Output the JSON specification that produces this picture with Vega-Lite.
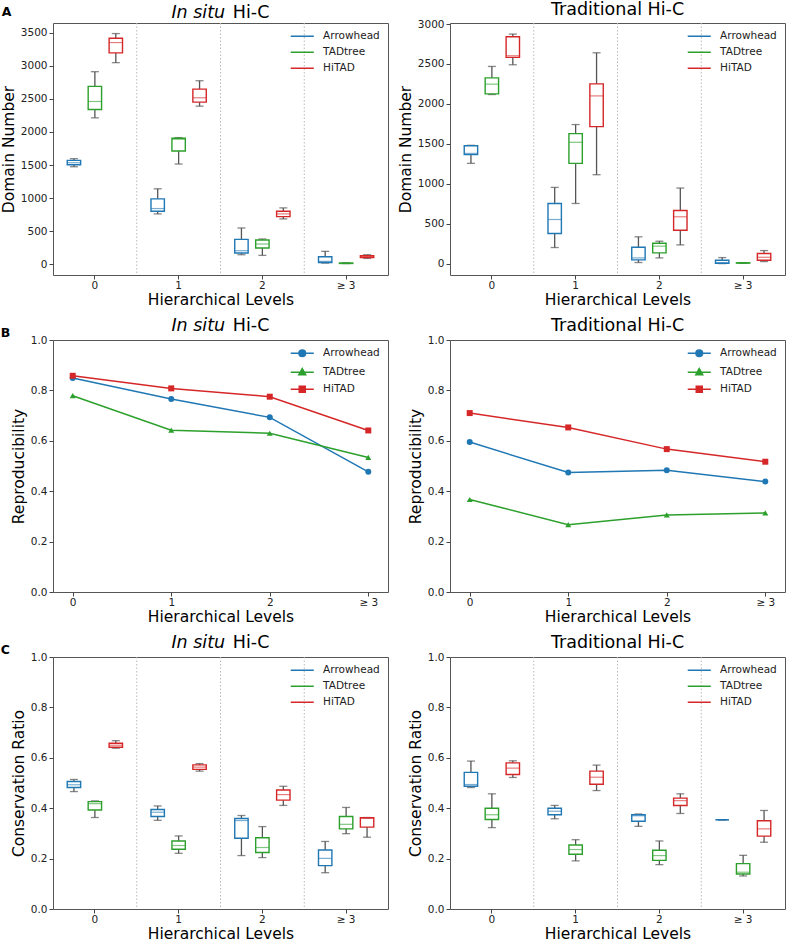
{
"$schema": "https://vega.github.io/schema/vega-lite/v6.json",
"padding": {"left": 0, "top": 0, "right": 3, "bottom": 0},
"config": {
 "font": "DejaVu Sans",
 "view": {"stroke": "#555555", "strokeWidth": 1},
 "axis": {"domain": false, "grid": false, "tickSize": 4, "tickColor": "#444444", "tickWidth": 1, "labelFontSize": 10.5, "titleFontSize": 15.5, "titleFontWeight": "normal", "labelColor": "#222222", "titleColor": "#000000", "labelPadding": 2, "titlePadding": 4},
 "axisX": {"labelPadding": 1, "titlePadding": 2},
 "title": {"fontSize": 17.5, "fontWeight": "normal", "color": "#000000", "offset": 1},
 "legend": {"labelFontSize": 10.5, "labelColor": "#222222"}
},
"datasets": {
 "seps": [{"level": "1"}, {"level": "2"}, {"level": "≥ 3"}],
 "A1": [
  {"level":"0","method":"Arrowhead","min":1474,"q1":1505,"median":1535,"q3":1570,"max":1596},
  {"level":"0","method":"TADtree","min":2214,"q1":2340,"median":2462,"q3":2690,"max":2913},
  {"level":"0","method":"HiTAD","min":3050,"q1":3197,"median":3354,"q3":3419,"max":3490},
  {"level":"1","method":"Arrowhead","min":760,"q1":800,"median":841,"q3":988,"max":1140},
  {"level":"1","method":"TADtree","min":1515,"q1":1712,"median":1890,"q3":1905,"max":1915},
  {"level":"1","method":"HiTAD","min":2391,"q1":2452,"median":2518,"q3":2649,"max":2776},
  {"level":"2","method":"Arrowhead","min":142,"q1":167,"median":203,"q3":375,"max":547},
  {"level":"2","method":"TADtree","min":132,"q1":243,"median":304,"q3":365,"max":380},
  {"level":"2","method":"HiTAD","min":684,"q1":719,"median":760,"q3":800,"max":851},
  {"level":"≥ 3","method":"Arrowhead","min":15,"q1":25,"median":41,"q3":111,"max":193},
  {"level":"≥ 3","method":"TADtree","min":8,"q1":10,"median":13,"q3":16,"max":20},
  {"level":"≥ 3","method":"HiTAD","min":86,"q1":101,"median":106,"q3":127,"max":142}
 ],
 "A2": [
  {"level":"0","method":"Arrowhead","min":1255,"q1":1364,"median":1380,"q3":1475,"max":1481},
  {"level":"0","method":"TADtree","min":2117,"q1":2126,"median":2247,"q3":2326,"max":2469},
  {"level":"0","method":"HiTAD","min":2490,"q1":2582,"median":2603,"q3":2841,"max":2874},
  {"level":"1","method":"Arrowhead","min":201,"q1":377,"median":552,"q3":753,"max":954},
  {"level":"1","method":"TADtree","min":753,"q1":1255,"median":1519,"q3":1628,"max":1741},
  {"level":"1","method":"HiTAD","min":1113,"q1":1715,"median":2100,"q3":2251,"max":2640},
  {"level":"2","method":"Arrowhead","min":13,"q1":46,"median":71,"q3":205,"max":335},
  {"level":"2","method":"TADtree","min":71,"q1":134,"median":218,"q3":255,"max":280},
  {"level":"2","method":"HiTAD","min":234,"q1":418,"median":586,"q3":665,"max":946},
  {"level":"≥ 3","method":"Arrowhead","min":0,"q1":4,"median":10,"q3":42,"max":75},
  {"level":"≥ 3","method":"TADtree","min":4,"q1":6,"median":8,"q3":10,"max":12},
  {"level":"≥ 3","method":"HiTAD","min":25,"q1":42,"median":79,"q3":126,"max":163}
 ],
 "B1": [
  {"level":"0","method":"Arrowhead","value":0.849},
  {"level":"1","method":"Arrowhead","value":0.766},
  {"level":"2","method":"Arrowhead","value":0.693},
  {"level":"≥ 3","method":"Arrowhead","value":0.477},
  {"level":"0","method":"TADtree","value":0.779},
  {"level":"1","method":"TADtree","value":0.642},
  {"level":"2","method":"TADtree","value":0.630},
  {"level":"≥ 3","method":"TADtree","value":0.534},
  {"level":"0","method":"HiTAD","value":0.858},
  {"level":"1","method":"HiTAD","value":0.808},
  {"level":"2","method":"HiTAD","value":0.775},
  {"level":"≥ 3","method":"HiTAD","value":0.641}
 ],
 "B2": [
  {"level":"0","method":"Arrowhead","value":0.595},
  {"level":"1","method":"Arrowhead","value":0.474},
  {"level":"2","method":"Arrowhead","value":0.483},
  {"level":"≥ 3","method":"Arrowhead","value":0.438},
  {"level":"0","method":"TADtree","value":0.367},
  {"level":"1","method":"TADtree","value":0.267},
  {"level":"2","method":"TADtree","value":0.306},
  {"level":"≥ 3","method":"TADtree","value":0.314},
  {"level":"0","method":"HiTAD","value":0.710},
  {"level":"1","method":"HiTAD","value":0.653},
  {"level":"2","method":"HiTAD","value":0.567},
  {"level":"≥ 3","method":"HiTAD","value":0.517}
 ],
 "C1": [
  {"level":"0","method":"Arrowhead","min":0.466,"q1":0.482,"median":0.493,"q3":0.506,"max":0.514},
  {"level":"0","method":"TADtree","min":0.363,"q1":0.393,"median":0.418,"q3":0.426,"max":0.429},
  {"level":"0","method":"HiTAD","min":0.638,"q1":0.642,"median":0.650,"q3":0.658,"max":0.668},
  {"level":"1","method":"Arrowhead","min":0.352,"q1":0.367,"median":0.384,"q3":0.395,"max":0.409},
  {"level":"1","method":"TADtree","min":0.221,"q1":0.237,"median":0.252,"q3":0.270,"max":0.290},
  {"level":"1","method":"HiTAD","min":0.547,"q1":0.554,"median":0.563,"q3":0.572,"max":0.577},
  {"level":"2","method":"Arrowhead","min":0.212,"q1":0.281,"median":0.351,"q3":0.359,"max":0.371},
  {"level":"2","method":"TADtree","min":0.204,"q1":0.224,"median":0.244,"q3":0.283,"max":0.327},
  {"level":"2","method":"HiTAD","min":0.411,"q1":0.432,"median":0.454,"q3":0.472,"max":0.487},
  {"level":"≥ 3","method":"Arrowhead","min":0.144,"q1":0.172,"median":0.201,"q3":0.234,"max":0.268},
  {"level":"≥ 3","method":"TADtree","min":0.299,"q1":0.318,"median":0.336,"q3":0.367,"max":0.403},
  {"level":"≥ 3","method":"HiTAD","min":0.285,"q1":0.325,"median":0.360,"q3":0.362,"max":0.363}
 ],
 "C2": [
  {"level":"0","method":"Arrowhead","min":0.482,"q1":0.487,"median":0.494,"q3":0.542,"max":0.587},
  {"level":"0","method":"TADtree","min":0.323,"q1":0.355,"median":0.374,"q3":0.400,"max":0.457},
  {"level":"0","method":"HiTAD","min":0.522,"q1":0.534,"median":0.559,"q3":0.580,"max":0.588},
  {"level":"1","method":"Arrowhead","min":0.358,"q1":0.374,"median":0.388,"q3":0.400,"max":0.411},
  {"level":"1","method":"TADtree","min":0.191,"q1":0.217,"median":0.236,"q3":0.254,"max":0.275},
  {"level":"1","method":"HiTAD","min":0.470,"q1":0.495,"median":0.523,"q3":0.547,"max":0.571},
  {"level":"2","method":"Arrowhead","min":0.328,"q1":0.348,"median":0.370,"q3":0.374,"max":0.377},
  {"level":"2","method":"TADtree","min":0.176,"q1":0.193,"median":0.212,"q3":0.233,"max":0.270},
  {"level":"2","method":"HiTAD","min":0.379,"q1":0.411,"median":0.430,"q3":0.440,"max":0.457},
  {"level":"≥ 3","method":"Arrowhead","min":0.354,"q1":0.354,"median":0.354,"q3":0.354,"max":0.354},
  {"level":"≥ 3","method":"TADtree","min":0.131,"q1":0.139,"median":0.146,"q3":0.180,"max":0.213},
  {"level":"≥ 3","method":"HiTAD","min":0.265,"q1":0.289,"median":0.318,"q3":0.350,"max":0.391}
 ]
},
"resolve": {"legend": {"color": "independent", "shape": "independent"}},
"spacing": 7,
"vconcat": [
 {
  "title": {"text": "A", "anchor": "start", "frame": "bounds", "fontSize": 12.5, "fontWeight": "bold", "offset": -18, "dx": 1},
  "bounds": "flush", "spacing": 62,
  "resolve": {"legend": {"color": "independent", "shape": "independent"}},
  "hconcat": [
   {
    "width": 335, "height": 252,
    "title": {"text": "In situ\u00a0\u00a0\u00a0\u00a0\u00a0\u00a0\u00a0\u00a0\u200b", "fontStyle": "italic", "subtitle": "\u200b\u00a0\u00a0\u00a0\u00a0\u00a0\u00a0\u00a0\u00a0\u00a0\u00a0\u00a0Hi-C", "subtitleFontSize": 17.5, "subtitleFontStyle": "normal", "subtitleColor": "#000000", "subtitlePadding": -17.5, "anchor": "middle", "frame": "group"},
    "layer": [
     {"data": {"name": "A1"}, "mark": {"type": "rule", "color": "#555555", "strokeWidth": 1.3},
      "encoding": {"x": {"field": "level", "type": "ordinal", "scale": {"domain": ["0","1","2","≥ 3"], "paddingInner": 0, "paddingOuter": 0}, "axis": {"title": "Hierarchical Levels", "labelAngle": 0, "bandPosition": 0.5}},
       "xOffset": {"field": "method", "type": "nominal", "scale": {"domain": ["Arrowhead","TADtree","HiTAD"], "paddingInner": 0.36, "paddingOuter": 0.68}},
       "y": {"field": "min", "type": "quantitative", "scale": {"domain": [-165, 3650], "nice": false, "zero": false}, "axis": {"title": "Domain Number", "format": "d", "values": [0,500,1000,1500,2000,2500,3000,3500]}}, "y2": {"field": "q1"}}},
     {"data": {"name": "seps"}, "mark": {"type": "rule", "color": "#b8b8b8", "strokeDash": [1.5, 2], "strokeWidth": 1},
      "encoding": {"x": {"field": "level", "type": "ordinal", "bandPosition": 0, "scale": {"domain": ["0","1","2","≥ 3"], "paddingInner": 0, "paddingOuter": 0}, "axis": {"title": "Hierarchical Levels", "labelAngle": 0, "bandPosition": 0.5}}}},
     {"data": {"name": "A1"}, "mark": {"type": "rule", "color": "#555555", "strokeWidth": 1.3},
      "encoding": {"x": {"field": "level", "type": "ordinal", "scale": {"domain": ["0","1","2","≥ 3"], "paddingInner": 0, "paddingOuter": 0}, "axis": {"title": "Hierarchical Levels", "labelAngle": 0, "bandPosition": 0.5}},
       "xOffset": {"field": "method", "type": "nominal", "scale": {"domain": ["Arrowhead","TADtree","HiTAD"], "paddingInner": 0.36, "paddingOuter": 0.68}},
       "y": {"field": "q3", "type": "quantitative", "scale": {"domain": [-165, 3650], "nice": false, "zero": false}, "axis": {"title": "Domain Number", "format": "d", "values": [0,500,1000,1500,2000,2500,3000,3500]}}, "y2": {"field": "max"}}},
     {"data": {"name": "A1"}, "mark": {"type": "tick", "color": "#555555", "size": 8, "thickness": 1.3},
      "encoding": {"x": {"field": "level", "type": "ordinal", "scale": {"domain": ["0","1","2","≥ 3"], "paddingInner": 0, "paddingOuter": 0}, "axis": {"title": "Hierarchical Levels", "labelAngle": 0, "bandPosition": 0.5}},
       "xOffset": {"field": "method", "type": "nominal", "scale": {"domain": ["Arrowhead","TADtree","HiTAD"], "paddingInner": 0.36, "paddingOuter": 0.68}},
       "y": {"field": "min", "type": "quantitative", "scale": {"domain": [-165, 3650], "nice": false, "zero": false}, "axis": {"title": "Domain Number", "format": "d", "values": [0,500,1000,1500,2000,2500,3000,3500]}}}},
     {"data": {"name": "A1"}, "mark": {"type": "tick", "color": "#555555", "size": 8, "thickness": 1.3},
      "encoding": {"x": {"field": "level", "type": "ordinal", "scale": {"domain": ["0","1","2","≥ 3"], "paddingInner": 0, "paddingOuter": 0}, "axis": {"title": "Hierarchical Levels", "labelAngle": 0, "bandPosition": 0.5}},
       "xOffset": {"field": "method", "type": "nominal", "scale": {"domain": ["Arrowhead","TADtree","HiTAD"], "paddingInner": 0.36, "paddingOuter": 0.68}},
       "y": {"field": "max", "type": "quantitative", "scale": {"domain": [-165, 3650], "nice": false, "zero": false}, "axis": {"title": "Domain Number", "format": "d", "values": [0,500,1000,1500,2000,2500,3000,3500]}}}},
     {"data": {"name": "A1"}, "mark": {"type": "bar", "filled": false, "strokeWidth": 1.4},
      "encoding": {"x": {"field": "level", "type": "ordinal", "scale": {"domain": ["0","1","2","≥ 3"], "paddingInner": 0, "paddingOuter": 0}, "axis": {"title": "Hierarchical Levels", "labelAngle": 0, "bandPosition": 0.5}},
       "xOffset": {"field": "method", "type": "nominal", "scale": {"domain": ["Arrowhead","TADtree","HiTAD"], "paddingInner": 0.36, "paddingOuter": 0.68}},
       "y": {"field": "q1", "type": "quantitative", "scale": {"domain": [-165, 3650], "nice": false, "zero": false}, "axis": {"title": "Domain Number", "format": "d", "values": [0,500,1000,1500,2000,2500,3000,3500]}}, "y2": {"field": "q3"},
       "color": {"field": "method", "type": "nominal", "scale": {"domain": ["Arrowhead","TADtree","HiTAD"], "range": ["#1f77b4","#2ca02c","#d62728"]},
        "legend": {"title": null, "orient": "top-right", "offset": 8, "padding": 0, "symbolType": "M-3,0H3", "symbolSize": 59, "symbolStrokeWidth": 1.5, "labelOffset": 15.6, "rowPadding": 5}}}},
     {"data": {"name": "A1"}, "mark": {"type": "tick", "size": 13, "thickness": 1.2, "opacity": 0.6},
      "encoding": {"x": {"field": "level", "type": "ordinal", "scale": {"domain": ["0","1","2","≥ 3"], "paddingInner": 0, "paddingOuter": 0}, "axis": {"title": "Hierarchical Levels", "labelAngle": 0, "bandPosition": 0.5}},
       "xOffset": {"field": "method", "type": "nominal", "scale": {"domain": ["Arrowhead","TADtree","HiTAD"], "paddingInner": 0.36, "paddingOuter": 0.68}},
       "y": {"field": "median", "type": "quantitative", "scale": {"domain": [-165, 3650], "nice": false, "zero": false}, "axis": {"title": "Domain Number", "format": "d", "values": [0,500,1000,1500,2000,2500,3000,3500]}},
       "color": {"field": "method", "type": "nominal", "legend": null}}}
    ]
   },
   {
    "width": 335, "height": 252,
    "title": {"text": "Traditional Hi-C", "anchor": "middle", "frame": "group"},
    "layer": [
     {"data": {"name": "A2"}, "mark": {"type": "rule", "color": "#555555", "strokeWidth": 1.3},
      "encoding": {"x": {"field": "level", "type": "ordinal", "scale": {"domain": ["0","1","2","≥ 3"], "paddingInner": 0, "paddingOuter": 0}, "axis": {"title": "Hierarchical Levels", "labelAngle": 0, "bandPosition": 0.5}},
       "xOffset": {"field": "method", "type": "nominal", "scale": {"domain": ["Arrowhead","TADtree","HiTAD"], "paddingInner": 0.36, "paddingOuter": 0.68}},
       "y": {"field": "min", "type": "quantitative", "scale": {"domain": [-143, 3013], "nice": false, "zero": false}, "axis": {"title": "Domain Number", "format": "d", "values": [0,500,1000,1500,2000,2500,3000]}}, "y2": {"field": "q1"}}},
     {"data": {"name": "seps"}, "mark": {"type": "rule", "color": "#b8b8b8", "strokeDash": [1.5, 2], "strokeWidth": 1},
      "encoding": {"x": {"field": "level", "type": "ordinal", "bandPosition": 0, "scale": {"domain": ["0","1","2","≥ 3"], "paddingInner": 0, "paddingOuter": 0}, "axis": {"title": "Hierarchical Levels", "labelAngle": 0, "bandPosition": 0.5}}}},
     {"data": {"name": "A2"}, "mark": {"type": "rule", "color": "#555555", "strokeWidth": 1.3},
      "encoding": {"x": {"field": "level", "type": "ordinal", "scale": {"domain": ["0","1","2","≥ 3"], "paddingInner": 0, "paddingOuter": 0}, "axis": {"title": "Hierarchical Levels", "labelAngle": 0, "bandPosition": 0.5}},
       "xOffset": {"field": "method", "type": "nominal", "scale": {"domain": ["Arrowhead","TADtree","HiTAD"], "paddingInner": 0.36, "paddingOuter": 0.68}},
       "y": {"field": "q3", "type": "quantitative", "scale": {"domain": [-143, 3013], "nice": false, "zero": false}, "axis": {"title": "Domain Number", "format": "d", "values": [0,500,1000,1500,2000,2500,3000]}}, "y2": {"field": "max"}}},
     {"data": {"name": "A2"}, "mark": {"type": "tick", "color": "#555555", "size": 8, "thickness": 1.3},
      "encoding": {"x": {"field": "level", "type": "ordinal", "scale": {"domain": ["0","1","2","≥ 3"], "paddingInner": 0, "paddingOuter": 0}, "axis": {"title": "Hierarchical Levels", "labelAngle": 0, "bandPosition": 0.5}},
       "xOffset": {"field": "method", "type": "nominal", "scale": {"domain": ["Arrowhead","TADtree","HiTAD"], "paddingInner": 0.36, "paddingOuter": 0.68}},
       "y": {"field": "min", "type": "quantitative", "scale": {"domain": [-143, 3013], "nice": false, "zero": false}, "axis": {"title": "Domain Number", "format": "d", "values": [0,500,1000,1500,2000,2500,3000]}}}},
     {"data": {"name": "A2"}, "mark": {"type": "tick", "color": "#555555", "size": 8, "thickness": 1.3},
      "encoding": {"x": {"field": "level", "type": "ordinal", "scale": {"domain": ["0","1","2","≥ 3"], "paddingInner": 0, "paddingOuter": 0}, "axis": {"title": "Hierarchical Levels", "labelAngle": 0, "bandPosition": 0.5}},
       "xOffset": {"field": "method", "type": "nominal", "scale": {"domain": ["Arrowhead","TADtree","HiTAD"], "paddingInner": 0.36, "paddingOuter": 0.68}},
       "y": {"field": "max", "type": "quantitative", "scale": {"domain": [-143, 3013], "nice": false, "zero": false}, "axis": {"title": "Domain Number", "format": "d", "values": [0,500,1000,1500,2000,2500,3000]}}}},
     {"data": {"name": "A2"}, "mark": {"type": "bar", "filled": false, "strokeWidth": 1.4},
      "encoding": {"x": {"field": "level", "type": "ordinal", "scale": {"domain": ["0","1","2","≥ 3"], "paddingInner": 0, "paddingOuter": 0}, "axis": {"title": "Hierarchical Levels", "labelAngle": 0, "bandPosition": 0.5}},
       "xOffset": {"field": "method", "type": "nominal", "scale": {"domain": ["Arrowhead","TADtree","HiTAD"], "paddingInner": 0.36, "paddingOuter": 0.68}},
       "y": {"field": "q1", "type": "quantitative", "scale": {"domain": [-143, 3013], "nice": false, "zero": false}, "axis": {"title": "Domain Number", "format": "d", "values": [0,500,1000,1500,2000,2500,3000]}}, "y2": {"field": "q3"},
       "color": {"field": "method", "type": "nominal",
        "legend": {"title": null, "orient": "top-right", "offset": 8, "padding": 0, "symbolType": "M-3,0H3", "symbolSize": 59, "symbolStrokeWidth": 1.5, "labelOffset": 15.6, "rowPadding": 5}}}},
     {"data": {"name": "A2"}, "mark": {"type": "tick", "size": 13, "thickness": 1.2, "opacity": 0.6},
      "encoding": {"x": {"field": "level", "type": "ordinal", "scale": {"domain": ["0","1","2","≥ 3"], "paddingInner": 0, "paddingOuter": 0}, "axis": {"title": "Hierarchical Levels", "labelAngle": 0, "bandPosition": 0.5}},
       "xOffset": {"field": "method", "type": "nominal", "scale": {"domain": ["Arrowhead","TADtree","HiTAD"], "paddingInner": 0.36, "paddingOuter": 0.68}},
       "y": {"field": "median", "type": "quantitative", "scale": {"domain": [-143, 3013], "nice": false, "zero": false}, "axis": {"title": "Domain Number", "format": "d", "values": [0,500,1000,1500,2000,2500,3000]}},
       "color": {"field": "method", "type": "nominal", "legend": null}}}
    ]
   }
  ]
 },
 {
  "title": {"text": "B", "anchor": "start", "frame": "bounds", "fontSize": 12.5, "fontWeight": "bold", "offset": -23, "dx": -10},
  "bounds": "flush", "spacing": 62,
  "resolve": {"legend": {"color": "independent", "shape": "independent"}},
  "hconcat": [
   {
    "width": 335, "height": 252,
    "title": {"text": "In situ\u00a0\u00a0\u00a0\u00a0\u00a0\u00a0\u00a0\u00a0\u200b", "fontStyle": "italic", "subtitle": "\u200b\u00a0\u00a0\u00a0\u00a0\u00a0\u00a0\u00a0\u00a0\u00a0\u00a0\u00a0Hi-C", "subtitleFontSize": 17.5, "subtitleFontStyle": "normal", "subtitleColor": "#000000", "subtitlePadding": -17.5, "anchor": "middle", "frame": "group"},
    "data": {"name": "B1"},
    "layer": [
     {"mark": {"type": "line", "strokeWidth": 1.5},
      "encoding": {"x": {"field": "level", "type": "ordinal", "scale": {"type": "point", "domain": ["0","1","2","≥ 3"], "padding": 0.2}, "axis": {"title": "Hierarchical Levels", "labelAngle": 0}},
       "y": {"field": "value", "type": "quantitative", "scale": {"domain": [0, 1], "nice": false, "zero": false}, "axis": {"title": "Reproducibility", "values": [0,0.2,0.4,0.6,0.8,1], "format": ".1f"}},
       "color": {"field": "method", "type": "nominal",
        "legend": {"title": null, "orient": "top-right", "offset": 8, "padding": 0, "symbolSize": 59, "symbolStrokeWidth": 1.5, "labelOffset": 15.6, "rowPadding": 5,
         "encode": {"symbols": {"update": {
          "shape": {"signal": "datum.value === 'Arrowhead' ? 'M-3,0H3M0.86,0A0.86,0.86 0 1 1 -0.86,0A0.86,0.86 0 1 1 0.86,0Z' : datum.value === 'TADtree' ? 'M-3,0H3M0,-0.95L0.9,0.65L-0.9,0.65Z' : 'M-3,0H3M-0.78,-0.78H0.78V0.78H-0.78Z'"},
          "stroke": {"signal": "datum.value === 'Arrowhead' ? '#1f77b4' : datum.value === 'TADtree' ? '#2ca02c' : '#d62728'"},
          "fill": {"signal": "datum.value === 'Arrowhead' ? '#1f77b4' : datum.value === 'TADtree' ? '#2ca02c' : '#d62728'"},
          "strokeWidth": {"value": 1.5}}}}}}}},
     {"transform": [{"filter": "datum.method === 'Arrowhead'"}], "mark": {"type": "point", "filled": true, "size": 36, "opacity": 1, "shape": "circle"},
      "encoding": {"x": {"field": "level", "type": "ordinal", "scale": {"type": "point", "domain": ["0","1","2","≥ 3"], "padding": 0.2}, "axis": {"title": "Hierarchical Levels", "labelAngle": 0}},
       "y": {"field": "value", "type": "quantitative", "scale": {"domain": [0, 1], "nice": false, "zero": false}, "axis": {"title": "Reproducibility", "values": [0,0.2,0.4,0.6,0.8,1], "format": ".1f"}},
       "color": {"field": "method", "type": "nominal", "legend": null}}},
     {"transform": [{"filter": "datum.method === 'TADtree'"}], "mark": {"type": "point", "filled": true, "size": 36, "opacity": 1, "shape": "triangle-up"},
      "encoding": {"x": {"field": "level", "type": "ordinal", "scale": {"type": "point", "domain": ["0","1","2","≥ 3"], "padding": 0.2}, "axis": {"title": "Hierarchical Levels", "labelAngle": 0}},
       "y": {"field": "value", "type": "quantitative", "scale": {"domain": [0, 1], "nice": false, "zero": false}, "axis": {"title": "Reproducibility", "values": [0,0.2,0.4,0.6,0.8,1], "format": ".1f"}},
       "color": {"field": "method", "type": "nominal", "legend": null}}},
     {"transform": [{"filter": "datum.method === 'HiTAD'"}], "mark": {"type": "point", "filled": true, "size": 36, "opacity": 1, "shape": "square"},
      "encoding": {"x": {"field": "level", "type": "ordinal", "scale": {"type": "point", "domain": ["0","1","2","≥ 3"], "padding": 0.2}, "axis": {"title": "Hierarchical Levels", "labelAngle": 0}},
       "y": {"field": "value", "type": "quantitative", "scale": {"domain": [0, 1], "nice": false, "zero": false}, "axis": {"title": "Reproducibility", "values": [0,0.2,0.4,0.6,0.8,1], "format": ".1f"}},
       "color": {"field": "method", "type": "nominal", "legend": null}}}
    ]
   },
   {
    "width": 335, "height": 252,
    "title": {"text": "Traditional Hi-C", "anchor": "middle", "frame": "group"},
    "data": {"name": "B2"},
    "layer": [
     {"mark": {"type": "line", "strokeWidth": 1.5},
      "encoding": {"x": {"field": "level", "type": "ordinal", "scale": {"type": "point", "domain": ["0","1","2","≥ 3"], "padding": 0.2}, "axis": {"title": "Hierarchical Levels", "labelAngle": 0}},
       "y": {"field": "value", "type": "quantitative", "scale": {"domain": [0, 1], "nice": false, "zero": false}, "axis": {"title": "Reproducibility", "values": [0,0.2,0.4,0.6,0.8,1], "format": ".1f"}},
       "color": {"field": "method", "type": "nominal",
        "legend": {"title": null, "orient": "top-right", "offset": 8, "padding": 0, "symbolSize": 59, "symbolStrokeWidth": 1.5, "labelOffset": 15.6, "rowPadding": 5,
         "encode": {"symbols": {"update": {
          "shape": {"signal": "datum.value === 'Arrowhead' ? 'M-3,0H3M0.86,0A0.86,0.86 0 1 1 -0.86,0A0.86,0.86 0 1 1 0.86,0Z' : datum.value === 'TADtree' ? 'M-3,0H3M0,-0.95L0.9,0.65L-0.9,0.65Z' : 'M-3,0H3M-0.78,-0.78H0.78V0.78H-0.78Z'"},
          "stroke": {"signal": "datum.value === 'Arrowhead' ? '#1f77b4' : datum.value === 'TADtree' ? '#2ca02c' : '#d62728'"},
          "fill": {"signal": "datum.value === 'Arrowhead' ? '#1f77b4' : datum.value === 'TADtree' ? '#2ca02c' : '#d62728'"},
          "strokeWidth": {"value": 1.5}}}}}}}},
     {"transform": [{"filter": "datum.method === 'Arrowhead'"}], "mark": {"type": "point", "filled": true, "size": 36, "opacity": 1, "shape": "circle"},
      "encoding": {"x": {"field": "level", "type": "ordinal", "scale": {"type": "point", "domain": ["0","1","2","≥ 3"], "padding": 0.2}, "axis": {"title": "Hierarchical Levels", "labelAngle": 0}},
       "y": {"field": "value", "type": "quantitative", "scale": {"domain": [0, 1], "nice": false, "zero": false}, "axis": {"title": "Reproducibility", "values": [0,0.2,0.4,0.6,0.8,1], "format": ".1f"}},
       "color": {"field": "method", "type": "nominal", "legend": null}}},
     {"transform": [{"filter": "datum.method === 'TADtree'"}], "mark": {"type": "point", "filled": true, "size": 36, "opacity": 1, "shape": "triangle-up"},
      "encoding": {"x": {"field": "level", "type": "ordinal", "scale": {"type": "point", "domain": ["0","1","2","≥ 3"], "padding": 0.2}, "axis": {"title": "Hierarchical Levels", "labelAngle": 0}},
       "y": {"field": "value", "type": "quantitative", "scale": {"domain": [0, 1], "nice": false, "zero": false}, "axis": {"title": "Reproducibility", "values": [0,0.2,0.4,0.6,0.8,1], "format": ".1f"}},
       "color": {"field": "method", "type": "nominal", "legend": null}}},
     {"transform": [{"filter": "datum.method === 'HiTAD'"}], "mark": {"type": "point", "filled": true, "size": 36, "opacity": 1, "shape": "square"},
      "encoding": {"x": {"field": "level", "type": "ordinal", "scale": {"type": "point", "domain": ["0","1","2","≥ 3"], "padding": 0.2}, "axis": {"title": "Hierarchical Levels", "labelAngle": 0}},
       "y": {"field": "value", "type": "quantitative", "scale": {"domain": [0, 1], "nice": false, "zero": false}, "axis": {"title": "Reproducibility", "values": [0,0.2,0.4,0.6,0.8,1], "format": ".1f"}},
       "color": {"field": "method", "type": "nominal", "legend": null}}}
    ]
   }
  ]
 },
 {
  "title": {"text": "C", "anchor": "start", "frame": "bounds", "fontSize": 12.5, "fontWeight": "bold", "offset": -23, "dx": -10},
  "bounds": "flush", "spacing": 62,
  "resolve": {"legend": {"color": "independent", "shape": "independent"}},
  "hconcat": [
   {
    "width": 335, "height": 252,
    "title": {"text": "In situ\u00a0\u00a0\u00a0\u00a0\u00a0\u00a0\u00a0\u00a0\u200b", "fontStyle": "italic", "subtitle": "\u200b\u00a0\u00a0\u00a0\u00a0\u00a0\u00a0\u00a0\u00a0\u00a0\u00a0\u00a0Hi-C", "subtitleFontSize": 17.5, "subtitleFontStyle": "normal", "subtitleColor": "#000000", "subtitlePadding": -17.5, "anchor": "middle", "frame": "group"},
    "layer": [
     {"data": {"name": "C1"}, "mark": {"type": "rule", "color": "#555555", "strokeWidth": 1.3},
      "encoding": {"x": {"field": "level", "type": "ordinal", "scale": {"domain": ["0","1","2","≥ 3"], "paddingInner": 0, "paddingOuter": 0}, "axis": {"title": "Hierarchical Levels", "labelAngle": 0, "bandPosition": 0.5}},
       "xOffset": {"field": "method", "type": "nominal", "scale": {"domain": ["Arrowhead","TADtree","HiTAD"], "paddingInner": 0.36, "paddingOuter": 0.68}},
       "y": {"field": "min", "type": "quantitative", "scale": {"domain": [0, 1], "nice": false, "zero": false}, "axis": {"title": "Conservation Ratio", "values": [0,0.2,0.4,0.6,0.8,1], "format": ".1f"}}, "y2": {"field": "q1"}}},
     {"data": {"name": "seps"}, "mark": {"type": "rule", "color": "#b8b8b8", "strokeDash": [1.5, 2], "strokeWidth": 1},
      "encoding": {"x": {"field": "level", "type": "ordinal", "bandPosition": 0, "scale": {"domain": ["0","1","2","≥ 3"], "paddingInner": 0, "paddingOuter": 0}, "axis": {"title": "Hierarchical Levels", "labelAngle": 0, "bandPosition": 0.5}}}},
     {"data": {"name": "C1"}, "mark": {"type": "rule", "color": "#555555", "strokeWidth": 1.3},
      "encoding": {"x": {"field": "level", "type": "ordinal", "scale": {"domain": ["0","1","2","≥ 3"], "paddingInner": 0, "paddingOuter": 0}, "axis": {"title": "Hierarchical Levels", "labelAngle": 0, "bandPosition": 0.5}},
       "xOffset": {"field": "method", "type": "nominal", "scale": {"domain": ["Arrowhead","TADtree","HiTAD"], "paddingInner": 0.36, "paddingOuter": 0.68}},
       "y": {"field": "q3", "type": "quantitative", "scale": {"domain": [0, 1], "nice": false, "zero": false}, "axis": {"title": "Conservation Ratio", "values": [0,0.2,0.4,0.6,0.8,1], "format": ".1f"}}, "y2": {"field": "max"}}},
     {"data": {"name": "C1"}, "mark": {"type": "tick", "color": "#555555", "size": 8, "thickness": 1.3},
      "encoding": {"x": {"field": "level", "type": "ordinal", "scale": {"domain": ["0","1","2","≥ 3"], "paddingInner": 0, "paddingOuter": 0}, "axis": {"title": "Hierarchical Levels", "labelAngle": 0, "bandPosition": 0.5}},
       "xOffset": {"field": "method", "type": "nominal", "scale": {"domain": ["Arrowhead","TADtree","HiTAD"], "paddingInner": 0.36, "paddingOuter": 0.68}},
       "y": {"field": "min", "type": "quantitative", "scale": {"domain": [0, 1], "nice": false, "zero": false}, "axis": {"title": "Conservation Ratio", "values": [0,0.2,0.4,0.6,0.8,1], "format": ".1f"}}}},
     {"data": {"name": "C1"}, "mark": {"type": "tick", "color": "#555555", "size": 8, "thickness": 1.3},
      "encoding": {"x": {"field": "level", "type": "ordinal", "scale": {"domain": ["0","1","2","≥ 3"], "paddingInner": 0, "paddingOuter": 0}, "axis": {"title": "Hierarchical Levels", "labelAngle": 0, "bandPosition": 0.5}},
       "xOffset": {"field": "method", "type": "nominal", "scale": {"domain": ["Arrowhead","TADtree","HiTAD"], "paddingInner": 0.36, "paddingOuter": 0.68}},
       "y": {"field": "max", "type": "quantitative", "scale": {"domain": [0, 1], "nice": false, "zero": false}, "axis": {"title": "Conservation Ratio", "values": [0,0.2,0.4,0.6,0.8,1], "format": ".1f"}}}},
     {"data": {"name": "C1"}, "mark": {"type": "bar", "filled": false, "strokeWidth": 1.4},
      "encoding": {"x": {"field": "level", "type": "ordinal", "scale": {"domain": ["0","1","2","≥ 3"], "paddingInner": 0, "paddingOuter": 0}, "axis": {"title": "Hierarchical Levels", "labelAngle": 0, "bandPosition": 0.5}},
       "xOffset": {"field": "method", "type": "nominal", "scale": {"domain": ["Arrowhead","TADtree","HiTAD"], "paddingInner": 0.36, "paddingOuter": 0.68}},
       "y": {"field": "q1", "type": "quantitative", "scale": {"domain": [0, 1], "nice": false, "zero": false}, "axis": {"title": "Conservation Ratio", "values": [0,0.2,0.4,0.6,0.8,1], "format": ".1f"}}, "y2": {"field": "q3"},
       "color": {"field": "method", "type": "nominal",
        "legend": {"title": null, "orient": "top-right", "offset": 8, "padding": 0, "symbolType": "M-3,0H3", "symbolSize": 59, "symbolStrokeWidth": 1.5, "labelOffset": 15.6, "rowPadding": 5}}}},
     {"data": {"name": "C1"}, "mark": {"type": "tick", "size": 13, "thickness": 1.2, "opacity": 0.6},
      "encoding": {"x": {"field": "level", "type": "ordinal", "scale": {"domain": ["0","1","2","≥ 3"], "paddingInner": 0, "paddingOuter": 0}, "axis": {"title": "Hierarchical Levels", "labelAngle": 0, "bandPosition": 0.5}},
       "xOffset": {"field": "method", "type": "nominal", "scale": {"domain": ["Arrowhead","TADtree","HiTAD"], "paddingInner": 0.36, "paddingOuter": 0.68}},
       "y": {"field": "median", "type": "quantitative", "scale": {"domain": [0, 1], "nice": false, "zero": false}, "axis": {"title": "Conservation Ratio", "values": [0,0.2,0.4,0.6,0.8,1], "format": ".1f"}},
       "color": {"field": "method", "type": "nominal", "legend": null}}}
    ]
   },
   {
    "width": 335, "height": 252,
    "title": {"text": "Traditional Hi-C", "anchor": "middle", "frame": "group"},
    "layer": [
     {"data": {"name": "C2"}, "mark": {"type": "rule", "color": "#555555", "strokeWidth": 1.3},
      "encoding": {"x": {"field": "level", "type": "ordinal", "scale": {"domain": ["0","1","2","≥ 3"], "paddingInner": 0, "paddingOuter": 0}, "axis": {"title": "Hierarchical Levels", "labelAngle": 0, "bandPosition": 0.5}},
       "xOffset": {"field": "method", "type": "nominal", "scale": {"domain": ["Arrowhead","TADtree","HiTAD"], "paddingInner": 0.36, "paddingOuter": 0.68}},
       "y": {"field": "min", "type": "quantitative", "scale": {"domain": [0, 1], "nice": false, "zero": false}, "axis": {"title": "Conservation Ratio", "values": [0,0.2,0.4,0.6,0.8,1], "format": ".1f"}}, "y2": {"field": "q1"}}},
     {"data": {"name": "seps"}, "mark": {"type": "rule", "color": "#b8b8b8", "strokeDash": [1.5, 2], "strokeWidth": 1},
      "encoding": {"x": {"field": "level", "type": "ordinal", "bandPosition": 0, "scale": {"domain": ["0","1","2","≥ 3"], "paddingInner": 0, "paddingOuter": 0}, "axis": {"title": "Hierarchical Levels", "labelAngle": 0, "bandPosition": 0.5}}}},
     {"data": {"name": "C2"}, "mark": {"type": "rule", "color": "#555555", "strokeWidth": 1.3},
      "encoding": {"x": {"field": "level", "type": "ordinal", "scale": {"domain": ["0","1","2","≥ 3"], "paddingInner": 0, "paddingOuter": 0}, "axis": {"title": "Hierarchical Levels", "labelAngle": 0, "bandPosition": 0.5}},
       "xOffset": {"field": "method", "type": "nominal", "scale": {"domain": ["Arrowhead","TADtree","HiTAD"], "paddingInner": 0.36, "paddingOuter": 0.68}},
       "y": {"field": "q3", "type": "quantitative", "scale": {"domain": [0, 1], "nice": false, "zero": false}, "axis": {"title": "Conservation Ratio", "values": [0,0.2,0.4,0.6,0.8,1], "format": ".1f"}}, "y2": {"field": "max"}}},
     {"data": {"name": "C2"}, "mark": {"type": "tick", "color": "#555555", "size": 8, "thickness": 1.3},
      "encoding": {"x": {"field": "level", "type": "ordinal", "scale": {"domain": ["0","1","2","≥ 3"], "paddingInner": 0, "paddingOuter": 0}, "axis": {"title": "Hierarchical Levels", "labelAngle": 0, "bandPosition": 0.5}},
       "xOffset": {"field": "method", "type": "nominal", "scale": {"domain": ["Arrowhead","TADtree","HiTAD"], "paddingInner": 0.36, "paddingOuter": 0.68}},
       "y": {"field": "min", "type": "quantitative", "scale": {"domain": [0, 1], "nice": false, "zero": false}, "axis": {"title": "Conservation Ratio", "values": [0,0.2,0.4,0.6,0.8,1], "format": ".1f"}}}},
     {"data": {"name": "C2"}, "mark": {"type": "tick", "color": "#555555", "size": 8, "thickness": 1.3},
      "encoding": {"x": {"field": "level", "type": "ordinal", "scale": {"domain": ["0","1","2","≥ 3"], "paddingInner": 0, "paddingOuter": 0}, "axis": {"title": "Hierarchical Levels", "labelAngle": 0, "bandPosition": 0.5}},
       "xOffset": {"field": "method", "type": "nominal", "scale": {"domain": ["Arrowhead","TADtree","HiTAD"], "paddingInner": 0.36, "paddingOuter": 0.68}},
       "y": {"field": "max", "type": "quantitative", "scale": {"domain": [0, 1], "nice": false, "zero": false}, "axis": {"title": "Conservation Ratio", "values": [0,0.2,0.4,0.6,0.8,1], "format": ".1f"}}}},
     {"data": {"name": "C2"}, "mark": {"type": "bar", "filled": false, "strokeWidth": 1.4},
      "encoding": {"x": {"field": "level", "type": "ordinal", "scale": {"domain": ["0","1","2","≥ 3"], "paddingInner": 0, "paddingOuter": 0}, "axis": {"title": "Hierarchical Levels", "labelAngle": 0, "bandPosition": 0.5}},
       "xOffset": {"field": "method", "type": "nominal", "scale": {"domain": ["Arrowhead","TADtree","HiTAD"], "paddingInner": 0.36, "paddingOuter": 0.68}},
       "y": {"field": "q1", "type": "quantitative", "scale": {"domain": [0, 1], "nice": false, "zero": false}, "axis": {"title": "Conservation Ratio", "values": [0,0.2,0.4,0.6,0.8,1], "format": ".1f"}}, "y2": {"field": "q3"},
       "color": {"field": "method", "type": "nominal",
        "legend": {"title": null, "orient": "top-right", "offset": 8, "padding": 0, "symbolType": "M-3,0H3", "symbolSize": 59, "symbolStrokeWidth": 1.5, "labelOffset": 15.6, "rowPadding": 5}}}},
     {"data": {"name": "C2"}, "mark": {"type": "tick", "size": 13, "thickness": 1.2, "opacity": 0.6},
      "encoding": {"x": {"field": "level", "type": "ordinal", "scale": {"domain": ["0","1","2","≥ 3"], "paddingInner": 0, "paddingOuter": 0}, "axis": {"title": "Hierarchical Levels", "labelAngle": 0, "bandPosition": 0.5}},
       "xOffset": {"field": "method", "type": "nominal", "scale": {"domain": ["Arrowhead","TADtree","HiTAD"], "paddingInner": 0.36, "paddingOuter": 0.68}},
       "y": {"field": "median", "type": "quantitative", "scale": {"domain": [0, 1], "nice": false, "zero": false}, "axis": {"title": "Conservation Ratio", "values": [0,0.2,0.4,0.6,0.8,1], "format": ".1f"}},
       "color": {"field": "method", "type": "nominal", "legend": null}}}
    ]
   }
  ]
 }
]
}
